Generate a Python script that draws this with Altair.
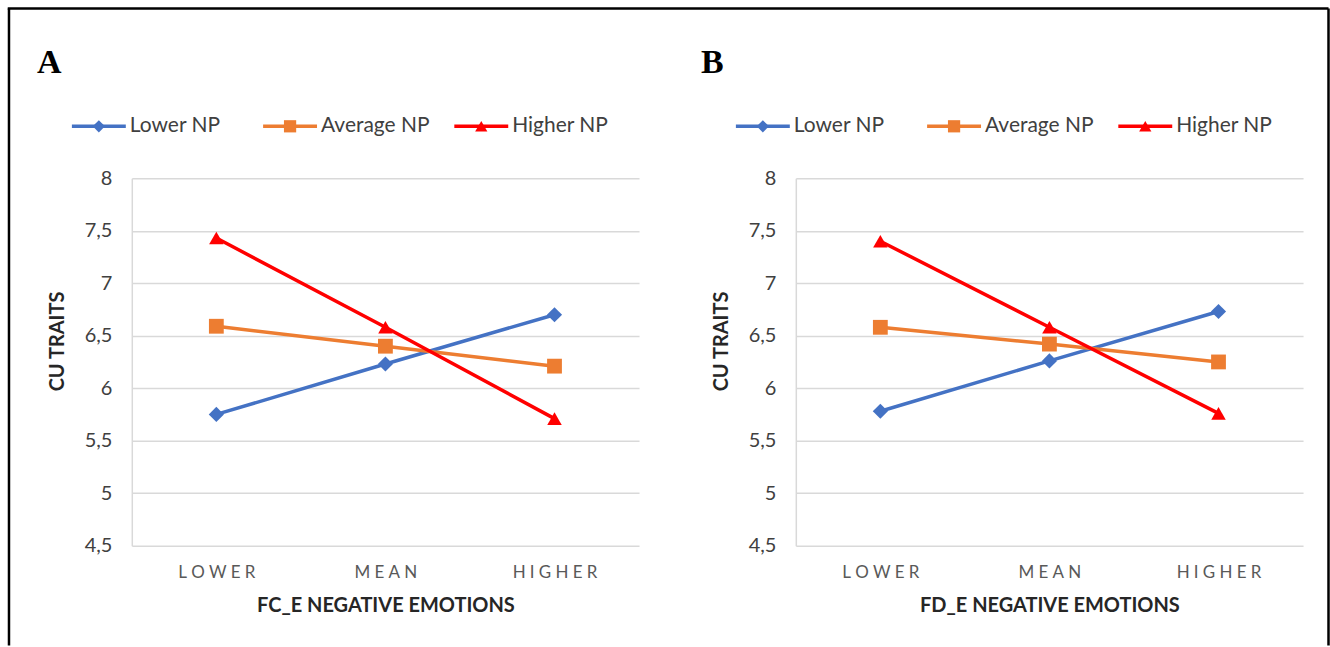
import altair as alt
import pandas as pd

levels = ["LOWER", "MEAN", "HIGHER"]
series = ["Lower NP", "Average NP", "Higher NP"]
colors = ["#4472C4", "#ED7D31", "#FF0000"]
shapes = ["diamond", "square", "triangle-up"]
marker_sizes = [230, 210, 270]
y_ticks = [4.5, 5, 5.5, 6, 6.5, 7, 7.5, 8]

a_lower = [5.75, 6.23, 6.70]
a_average = [6.59, 6.40, 6.21]
a_higher = [7.43, 6.58, 5.71]

b_lower = [5.78, 6.26, 6.73]
b_average = [6.58, 6.42, 6.25]
b_higher = [7.40, 6.58, 5.76]

panel_labels = ["A", "B"]
x_titles = ["FC_E NEGATIVE EMOTIONS", "FD_E NEGATIVE EMOTIONS"]

FONT = "Lato"
GRID = "#d9d9d9"


def make_df(lo, av, hi):
    rows = []
    for name, vals in zip(series, [lo, av, hi]):
        for lev, v in zip(levels, vals):
            rows.append({"series": name, "level": lev, "value": v})
    return pd.DataFrame(rows)


color_scale = alt.Scale(domain=series, range=colors)
shape_scale = alt.Scale(domain=series, range=shapes)
size_scale = alt.Scale(domain=series, range=marker_sizes)


def make_panel(df, label, xtitle, frame_left, frame_right, top_span):
    base = alt.Chart(df)
    x = alt.X(
        "level:N",
        sort=levels,
        scale=alt.Scale(type="point", padding=0.5),
        axis=alt.Axis(
            title=xtitle,
            labelExpr="join(split(datum.label, ''), '\u2005')",
            labelAngle=0,
            ticks=False,
            domain=False,
            grid=False,
            labelFont=FONT,
            labelFontSize=17,
            labelColor="#595959",
            labelPadding=19,
            titleFont=FONT,
            titleFontSize=20,
            titleFontWeight="bold",
            titleColor="#262626",
            titlePadding=15,
        ),
    )
    y = alt.Y(
        "value:Q",
        scale=alt.Scale(domain=[4.5, 8], nice=False, zero=False),
        axis=alt.Axis(
            values=y_ticks,
            labelExpr="replace(format(datum.value, '~g'), '.', ',')",
            title="CU TRAITS",
            titleY=163,
            ticks=False,
            domainColor=GRID,
            domainWidth=1.5,
            gridColor=GRID,
            gridWidth=1.5,
            labelFont=FONT,
            labelFontSize=20,
            labelColor="#404040",
            labelPadding=20,
            titleFont=FONT,
            titleFontSize=20,
            titleFontWeight="bold",
            titleColor="#262626",
            titlePadding=17,
        ),
    )
    color = alt.Color("series:N", scale=color_scale, legend=None)
    lines = base.mark_line(strokeWidth=3.5).encode(
        x=x, y=y, color=color, detail="series:N"
    )
    points = base.mark_point(filled=True, opacity=1).encode(
        x=x,
        y=y,
        color=color,
        shape=alt.Shape("series:N", scale=shape_scale, legend=None),
        size=alt.Size("series:N", scale=size_scale, legend=None),
    )
    plot = alt.layer(lines, points)

    leg_df = pd.DataFrame({"series": series})
    lx = alt.X(
        "series:N",
        sort=series,
        scale=alt.Scale(type="point", range=[-33, 350], padding=0),
        axis=None,
    )
    leg_base = alt.Chart(leg_df)
    leg_rule = leg_base.mark_rule(strokeWidth=3.5, xOffset=-27, x2Offset=27).encode(
        x=lx, x2="series:N", y=alt.value(-52), color=color
    )
    leg_pt = leg_base.mark_point(filled=True, opacity=1).encode(
        x=lx,
        y=alt.value(-52),
        color=color,
        shape=alt.Shape("series:N", scale=shape_scale, legend=None),
        size=alt.value(150),
    )
    leg_txt = leg_base.mark_text(
        align="left", baseline="middle", dx=31, font=FONT, fontSize=21, color="#404040"
    ).encode(x=lx, y=alt.value(-52), text="series:N")
    legend = alt.layer(leg_rule, leg_pt, leg_txt)

    one = alt.Chart(pd.DataFrame({"label": [label]}))
    title = one.mark_text(
        align="left", baseline="alphabetic", font="Liberation Serif",
        fontSize=34, fontWeight="bold", color="black"
    ).encode(text="label:N", x=alt.value(-95), y=alt.value(-105))

    frame_rules = []
    for fx in (frame_left, frame_right):
        if fx is not None:
            frame_rules.append(
                one.mark_rule(color="black", strokeWidth=2.5).encode(
                    x=alt.value(fx), y=alt.value(-170), y2=alt.value(468)
                )
            )
    if top_span is not None:
        frame_rules.append(
            one.mark_rule(color="black", strokeWidth=2.5).encode(
                x=alt.value(top_span[0]), x2=alt.value(top_span[1]), y=alt.value(-170)
            )
        )

    return (
        alt.layer(plot, legend, title, *frame_rules)
        .resolve_scale(x="independent")
        .properties(width=508, height=368)
    )


panel_a = make_panel(
    make_df(a_lower, a_average, a_higher), panel_labels[0], x_titles[0],
    -123, None, (-124.25, 1198.5)
)
panel_b = make_panel(
    make_df(b_lower, b_average, b_higher), panel_labels[1], x_titles[1],
    None, 533.5, None
)

chart = (
    alt.hconcat(panel_a, panel_b, spacing=157, bounds="flush")
    .properties(padding={"left": 6, "top": 6, "right": 0, "bottom": 0}, background="white")
    .configure_view(stroke=None)
)

chart.save("out.html", embed_options={"renderer": "svg", "actions": False})
